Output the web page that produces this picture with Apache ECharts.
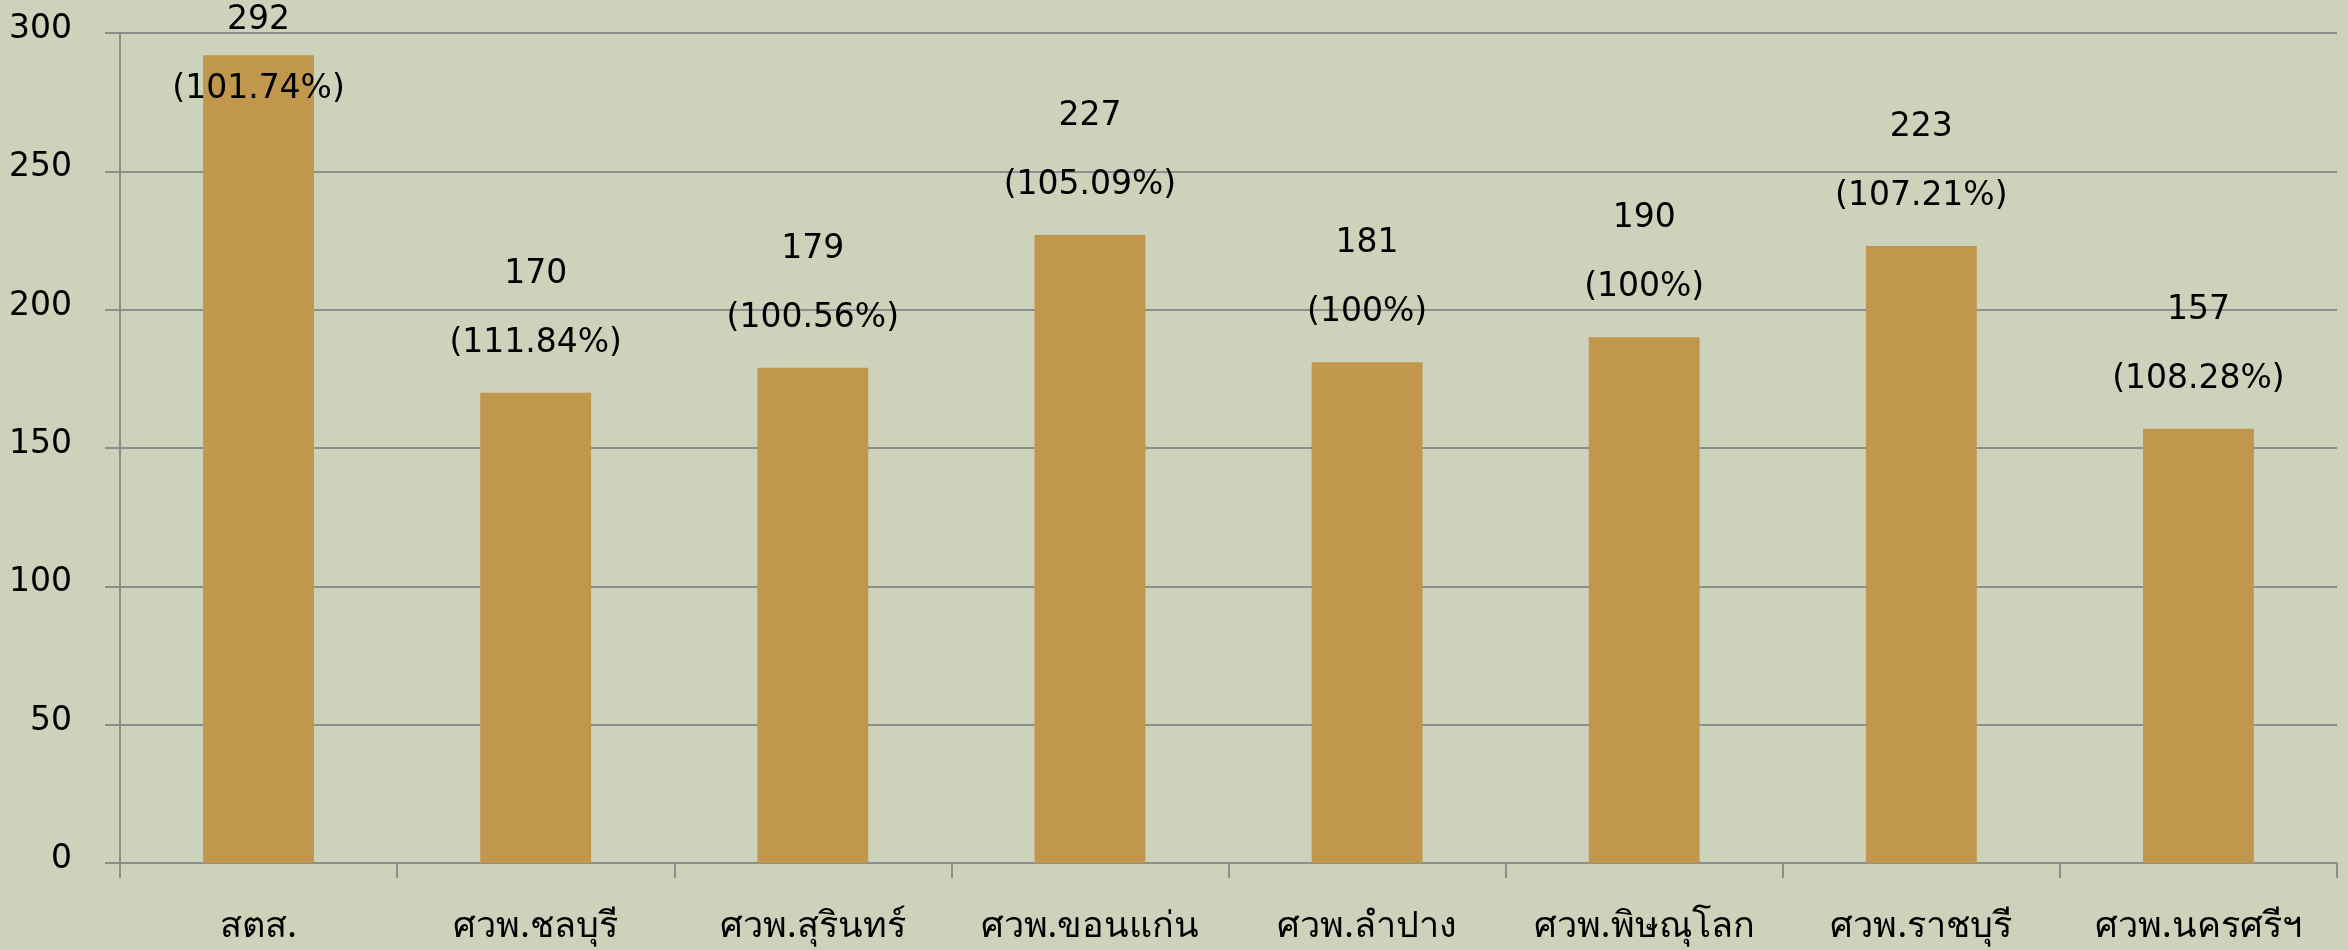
<!DOCTYPE html>
<html lang="th">
  <head>
    <meta charset="UTF-8" />
    <title>chart</title>
    <style>
      body {
        margin: 0;
        width: 2348px;
        height: 950px;
        background-color: #cdd2bb;
      }
      #chart {
        width: 2348px;
        height: 950px;
      }
    </style>
  </head>
  <body>
    <div id="chart"></div>
    <script src="https://cdn.jsdelivr.net/npm/echarts@6/dist/echarts.min.js"></script>
    <script>
      const categories = [
        "สตส.",
        "ศวพ.ชลบุรี",
        "ศวพ.สุรินทร์",
        "ศวพ.ขอนแก่น",
        "ศวพ.ลำปาง",
        "ศวพ.พิษณุโลก",
        "ศวพ.ราชบุรี",
        "ศวพ.นครศรีฯ",
      ];
      const values = [292, 170, 179, 227, 181, 190, 223, 157];
      const percents = ["101.74%", "111.84%", "100.56%", "105.09%", "100%", "100%", "107.21%", "108.28%"];

      const chart = echarts.init(document.getElementById("chart"));

      // labels of the tallest bar would leave the chart, pull them down onto the bar top
      const barData = values.map((v) => ({
        value: v,
        label: v > 280 ? { distance: -69 } : undefined,
      }));

      chart.setOption({
        backgroundColor: "#cdd2bb",
        animation: false,
        grid: { left: 120, right: 11, top: 33, bottom: 87 },
        xAxis: {
          type: "category",
          data: categories,
          axisLine: { lineStyle: { color: "#8e8e8e", width: 2 } },
          axisTick: { show: true, interval: 0, length: 15, lineStyle: { color: "#8e8e8e", width: 2 } },
          axisLabel: {
            interval: 0,
            color: "#000",
            fontSize: 36,
            margin: 46,
            fontFamily: "Noto Sans, DejaVu Sans, sans-serif",
          },
        },
        yAxis: {
          type: "value",
          min: 0,
          max: 300,
          interval: 50,
          axisLine: { show: true, lineStyle: { color: "#8e8e8e", width: 2 } },
          axisTick: { show: true, length: 15, lineStyle: { color: "#8e8e8e", width: 2 } },
          splitLine: { lineStyle: { color: "#8e8e8e", width: 2 } },
          axisLabel: {
            color: "#000",
            fontSize: 33,
            margin: 48,
            verticalAlign: "bottom",
            lineHeight: 33,
            padding: [0, 0, -13, 0],
            fontFamily: "DejaVu Sans",
          },
        },
        series: [
          {
            type: "bar",
            data: barData,
            barWidth: "40%",
            itemStyle: { color: "#c0974c" },
            label: {
              show: true,
              position: "top",
              distance: 15,
              color: "#000",
              fontSize: 33,
              lineHeight: 69,
              fontFamily: "DejaVu Sans",
              formatter: (p) => p.value + "\n(" + percents[p.dataIndex] + ")",
            },
          },
        ],
      });
    </script>
  </body>
</html>
